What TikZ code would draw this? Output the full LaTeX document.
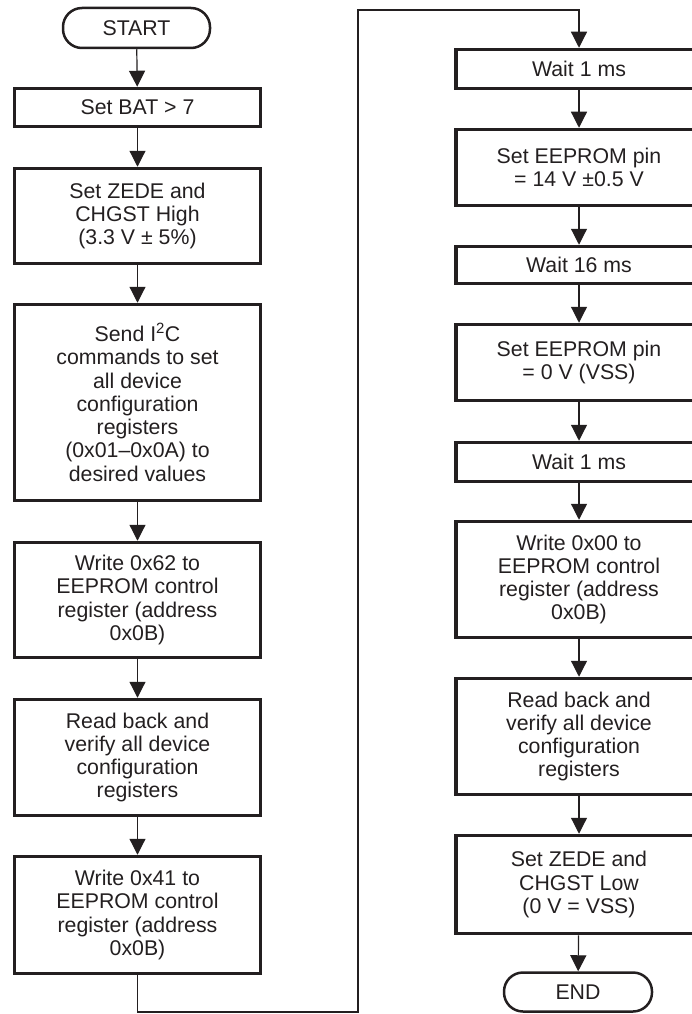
\documentclass[tikz,border=0pt]{standalone}
\usepackage{fontspec}
\setmainfont{Liberation Sans}
\usetikzlibrary{arrows.meta}
\definecolor{ink}{HTML}{231F20}
\begin{document}
\begin{tikzpicture}[x=1pt,y=-1pt,
  box/.style={draw=ink, line width=3.5pt, inner sep=0pt, align=center,
    font=\fontsize{21.3}{23.3}\selectfont, text=ink},
  term/.style={draw=ink, line width=2.5pt, inner sep=0pt, rounded corners=19pt,
    font=\fontsize{21.3}{23.3}\selectfont, text=ink},
  arr/.style={draw=ink, line width=1.2pt, -{Triangle[width=16pt,length=16pt]}},
]
\useasboundingbox (0,0) rectangle (692,1014);
% left column
\node[term, minimum width=147pt, minimum height=40pt] (start) at (136.5,28) {START};
\node[box, minimum width=246pt, minimum height=38pt] (bat) at (137.5,107.5) {Set BAT > 7};
\node[box, minimum width=246pt, minimum height=95pt] (zh) at (137.5,216) {Set ZEDE and\\CHGST High\\(3.3 V ± 5\%)};
\node[box, minimum width=246pt, minimum height=196pt] (i2c) at (137.5,402.5) {Send I\textsuperscript{2}C\\commands to set\\all device\\configuration\\registers\\(0x01–0x0A) to\\desired values};
\node[box, minimum width=246pt, minimum height=115pt] (w62) at (137.5,600) {Write 0x62 to\\EEPROM control\\register (address\\0x0B)};
\node[box, minimum width=246pt, minimum height=116pt] (rb1) at (137.5,757.5) {Read back and\\verify all device\\configuration\\registers};
\node[box, minimum width=246pt, minimum height=117pt] (w41) at (137.5,915) {Write 0x41 to\\EEPROM control\\register (address\\0x0B)};
% right column
\node[box, minimum width=246pt, minimum height=39pt] (wa) at (579,69) {Wait 1 ms};
\node[box, minimum width=246pt, minimum height=76pt] (e14) at (579,167.5) {Set EEPROM pin\\= 14 V ±0.5 V};
\node[box, minimum width=246pt, minimum height=37pt] (w16) at (579,265) {Wait 16 ms};
\node[box, minimum width=246pt, minimum height=76pt] (e0) at (579,362.5) {Set EEPROM pin\\= 0 V (VSS)};
\node[box, minimum width=246pt, minimum height=39pt] (wb) at (579,462) {Wait 1 ms};
\node[box, minimum width=246pt, minimum height=116pt] (w00) at (579,579.5) {Write 0x00 to\\EEPROM control\\register (address\\0x0B)};
\node[box, minimum width=246pt, minimum height=116pt] (rb2) at (579,736.5) {Read back and\\verify all device\\configuration\\registers};
\node[box, minimum width=246pt, minimum height=98pt] (zl) at (579,884.5) {Set ZEDE and\\CHGST Low\\(0 V = VSS)};
\node[term, minimum width=148pt, minimum height=39pt] (end) at (578,992) {END};
% connectors
\draw[arr] (start) -- (bat);
\draw[arr] (bat) -- (zh);
\draw[arr] (zh) -- (i2c);
\draw[arr] (i2c) -- (w62);
\draw[arr] (w62) -- (rb1);
\draw[arr] (rb1) -- (w41);
\coordinate (c1) at (358,1012);
\coordinate (c2) at (358,10);
\draw[arr] (w41.south) |- (c1) -- (c2) -| (wa.north);
\draw[arr] (wa) -- (e14);
\draw[arr] (e14) -- (w16);
\draw[arr] (w16) -- (e0);
\draw[arr] (e0) -- (wb);
\draw[arr] (wb) -- (w00);
\draw[arr] (w00) -- (rb2);
\draw[arr] (rb2) -- (zl);
\draw[arr] (zl) -- (end);
\end{tikzpicture}
\end{document}
